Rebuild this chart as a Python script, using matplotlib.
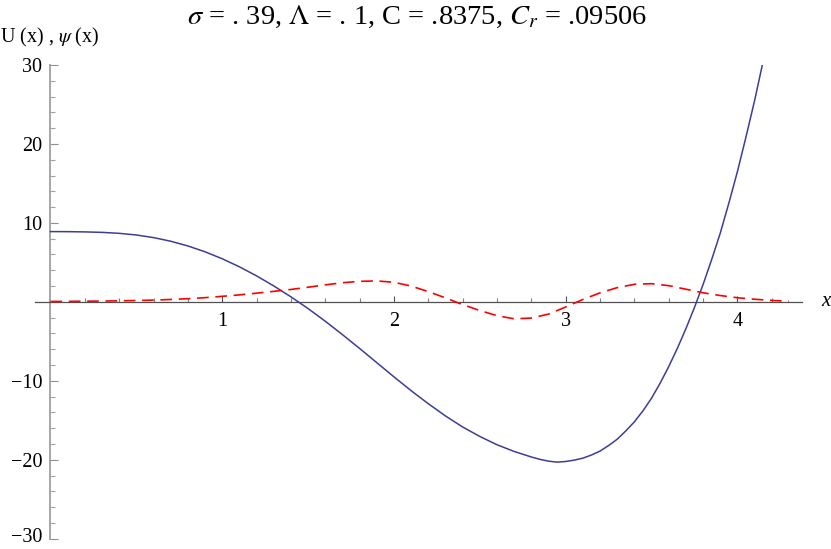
"""Mathematica-style plot of U(x) and psi(x), rebuilt with matplotlib."""

import matplotlib

matplotlib.use("Agg")
from matplotlib import pyplot as plt
from matplotlib import transforms
from matplotlib.ticker import FixedLocator

plt.rcParams["font.family"] = ["Liberation Serif", "DejaVu Serif"]
plt.rcParams["mathtext.fontset"] = "stix"

# potential U(x), solid blue
x_u = [0.0, 0.1, 0.2, 0.3, 0.4, 0.5, 0.6, 0.7, 0.8, 0.9,
       1.0, 1.1, 1.2, 1.3, 1.4, 1.5, 1.6, 1.7, 1.8, 1.9,
       2.0, 2.1, 2.2, 2.3, 2.4, 2.5, 2.6, 2.7, 2.8, 2.85,
       2.9, 2.95, 3.0, 3.05, 3.1, 3.15, 3.2, 3.25, 3.3, 3.35,
       3.4, 3.45, 3.5, 3.55, 3.6, 3.65, 3.7, 3.75, 3.8, 3.85,
       3.9, 3.95, 4.0, 4.05, 4.1, 4.145]
u_vals = [8.9, 8.89, 8.86, 8.8, 8.68, 8.47, 8.14, 7.68, 7.08, 6.34,
          5.46, 4.44, 3.29, 2.02, 0.64, -0.85, -2.45, -4.15, -5.9, -7.7,
          -9.5, -11.25, -12.9, -14.45, -15.85, -17.05, -18.1, -18.95, -19.65, -19.95,
          -20.18, -20.3, -20.22, -20.05, -19.8, -19.4, -18.9, -18.2, -17.4, -16.35,
          -15.2, -13.8, -12.2, -10.3, -8.2, -5.9, -3.4, -0.7, 2.2, 5.35,
          8.7, 12.5, 16.5, 20.9, 25.5, 30.0]

# wave function psi(x), dashed red
x_psi = [0.0, 0.1, 0.2, 0.3, 0.4, 0.5, 0.6, 0.7, 0.8, 0.9,
         1.0, 1.1, 1.2, 1.3, 1.4, 1.5, 1.6, 1.7, 1.8, 1.9,
         2.0, 2.1, 2.2, 2.3, 2.4, 2.5, 2.6, 2.7, 2.8, 2.9,
         3.0, 3.1, 3.2, 3.3, 3.4, 3.5, 3.6, 3.7, 3.8, 3.9,
         4.0, 4.1, 4.2, 4.3]
psi_vals = [0.05, 0.06, 0.08, 0.1, 0.13, 0.17, 0.22, 0.3, 0.4, 0.53,
            0.7, 0.88, 1.1, 1.33, 1.57, 1.85, 2.15, 2.42, 2.6, 2.65,
            2.48, 2.0, 1.3, 0.5, -0.35, -1.1, -1.75, -2.15, -2.05, -1.55,
            -0.65, 0.3, 1.14, 1.8, 2.22, 2.3, 2.05, 1.6, 1.15, 0.8,
            0.52, 0.33, 0.18, 0.08]

x_ticks = [1, 2, 3, 4]
x_minor = [0.2, 0.4, 0.6, 0.8, 1.2, 1.4, 1.6, 1.8, 2.2, 2.4, 2.6, 2.8,
           3.2, 3.4, 3.6, 3.8, 4.2]
y_ticks = [-30, -20, -10, 10, 20, 30]
y_minor = [v for v in range(-28, 30, 2) if v % 10 != 0]

title = r"$\sigma$ = . 39, $\Lambda$ = . 1, C = .8375, $C_r$ = .09506"

W, H = 831, 549
fig = plt.figure(figsize=(W / 100, H / 100), dpi=100)
ax = fig.add_axes([35 / W, 1 - 538.7 / H, 767 / W, 473.7 / H])
ax.set_xlim(-0.09, 4.376)
ax.set_ylim(-30, 30)

ax.plot(x_u, u_vals, color="#3d3d99", lw=1.1, zorder=3)
ax.plot(x_psi, psi_vals, color="#ff0000", lw=1.2, dashes=(7, 4), zorder=3)

# axes through the origin, mathematica style
for side in ("top", "right"):
    ax.spines[side].set_visible(False)
ax.spines["left"].set_position(("data", 0))
ax.spines["bottom"].set_position(("data", 0))
ax.spines["left"].set_color("#a6a6a6")
ax.spines["left"].set_linewidth(1.4)
ax.spines["bottom"].set_color("#505050")
ax.spines["bottom"].set_linewidth(0.9)

ax.xaxis.set_major_locator(FixedLocator(x_ticks))
ax.xaxis.set_minor_locator(FixedLocator(x_minor))
ax.yaxis.set_major_locator(FixedLocator(y_ticks))
ax.yaxis.set_minor_locator(FixedLocator(y_minor))
ax.set_xticklabels([str(t) for t in x_ticks])
ax.set_yticklabels([f"{t}".replace("-", "\u2212") for t in y_ticks])

ax.tick_params(axis="x", which="major", direction="in", length=4.5, width=0.8,
               color="#505050", labelsize=14.5, pad=7)
ax.tick_params(axis="x", which="minor", direction="in", length=3, width=0.8,
               color="#808080")
ax.tick_params(axis="y", which="major", direction="in", length=5.5, width=0.8,
               color="#909090", labelsize=14.5, pad=6)
ax.tick_params(axis="y", which="minor", direction="in", length=3.5, width=0.8,
               color="#a0a0a0")

# -30 sits right on the bottom edge, lift it a hair so it is not cut
bottom_lbl = ax.get_yticklabels()[0]
bottom_lbl.set_transform(bottom_lbl.get_transform()
                         + transforms.ScaledTranslation(0, 2.5 / 72, fig.dpi_scale_trans))

fig.text(417 / W, 1 - 17 / H, title, ha="center", va="center", fontsize=20.5)
fig.text(0, 1 - 37 / H, r"U (x) , $\psi$ (x)", ha="left", va="center", fontsize=14.5)
fig.text(826 / W, 1 - 302 / H, "x", ha="center", va="center", fontsize=15,
         fontstyle="italic")

fig.savefig("out.png", dpi=100)
plt.close(fig)
